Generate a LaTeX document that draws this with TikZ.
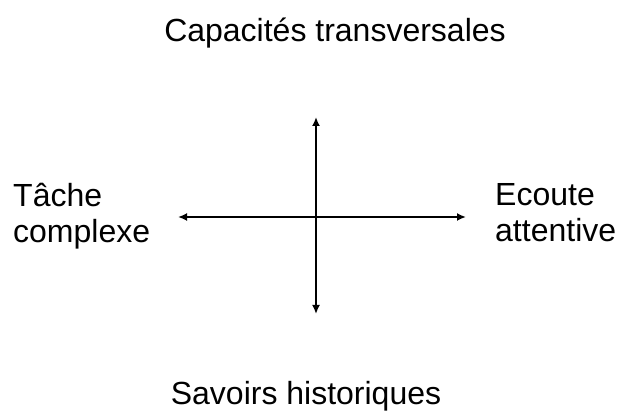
\documentclass[tikz,border=0pt]{standalone}
\usepackage{fontspec}
\setmainfont{Liberation Sans}
\usetikzlibrary{arrows.meta, positioning}

\begin{document}
\begin{tikzpicture}[x=1pt,y=1pt]
\useasboundingbox (0,0) rectangle (618,412);
\begin{scope}[every node/.style={font=\fontsize{32}{36}\selectfont, inner sep=0pt, align=left}]

\node [anchor=base] (transv) at (335,370) {Capacités transversales};
\node [anchor=base] (savoirs) at (306,7) {Savoirs historiques};
\node [anchor=base west] (tache) at (13,169) {Tâche\\complexe};
\node [anchor=base west] (ecoute) at (495,170) {Ecoute\\attentive};

\coordinate (nord)  at (316,295);
\coordinate (sud)   at (316,98);
\coordinate (ouest) at (178,195);
\coordinate (est)   at (466,195);

\foreach \a/\b in {ouest/est, sud/nord}
  \draw [black, line width=2.5pt, {Latex[length=9pt,width=8pt]}-{Latex[length=9pt,width=8pt]}] (\a) -- (\b);

\end{scope}
\end{tikzpicture}
\end{document}
